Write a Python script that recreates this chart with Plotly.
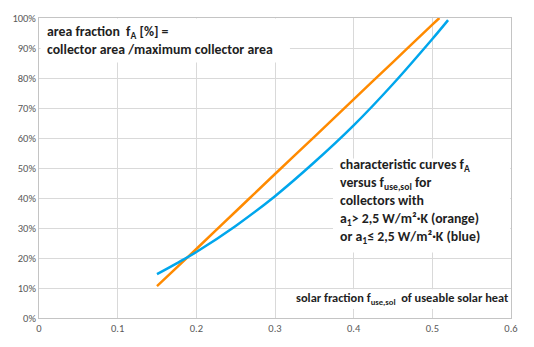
import plotly.graph_objects as go

# Data
x_orange = [0.15, 0.2, 0.25, 0.3, 0.35, 0.4, 0.45, 0.5, 0.509]
y_orange = [10.6, 23.0, 35.5, 48.0, 60.4, 72.9, 85.3, 97.8, 100.0]

x_blue = [0.15, 0.175, 0.2, 0.25, 0.3, 0.35, 0.4, 0.45, 0.5, 0.52]
y_blue = [14.6, 18.2, 22.0, 30.7, 40.6, 51.9, 64.2, 78.0, 93.0, 99.3]

x_ticks = [0, 0.1, 0.2, 0.3, 0.4, 0.5, 0.6]
x_tick_text = ["0", "0.1", "0.2", "0.3", "0.4", "0.5", "0.6"]
y_ticks = [0, 10, 20, 30, 40, 50, 60, 70, 80, 90, 100]
y_tick_text = [f"{v}%" for v in y_ticks]

ORANGE = "#FF8A00"
BLUE = "#00A6EC"
FONT = "Carlito, Lato, sans-serif"
TXT = "#1f1f1f"

fig = go.Figure()
fig.add_trace(go.Scatter(x=x_orange, y=y_orange, mode="lines",
                         line=dict(color=ORANGE, width=2.5, shape="spline"),
                         showlegend=False, hoverinfo="skip"))
fig.add_trace(go.Scatter(x=x_blue, y=y_blue, mode="lines",
                         line=dict(color=BLUE, width=2.5, shape="spline"),
                         showlegend=False, hoverinfo="skip"))

# white boxes behind the text blocks (hide grid lines)
boxes = [
    (0.002, 0.319, 85.2, 99.8),
    (0.3737, 0.599, 21.8, 53.2),
    (0.329, 0.599, 3.0, 9.6),
]
for x0, x1, y0, y1 in boxes:
    fig.add_shape(type="rect", xref="x", yref="y", x0=x0, x1=x1, y0=y0, y1=y1,
                  fillcolor="white", line=dict(width=0), layer="above")

fig.add_annotation(xref="paper", yref="paper", x=0.0155, y=0.926,
                   xanchor="left", yanchor="middle", align="left", showarrow=False,
                   borderpad=0,
                   text="<b>area fraction  f<sub>A</sub> [%] =<br>collector area /maximum collector area</b>",
                   font=dict(family=FONT, size=13.8, color=TXT))
fig.add_annotation(xref="paper", yref="paper", x=0.6354, y=0.3897,
                   xanchor="left", yanchor="middle", align="left", showarrow=False,
                   borderpad=0,
                   text=("<b>characteristic curves f<sub>A</sub><br>"
                         "versus f<sub>use,sol</sub> for<br>"
                         "collectors with<br>"
                         "a<sub>1</sub>> 2,5 W/m²·K (orange)<br>"
                         "or a<sub>1</sub>≤ 2,5 W/m²·K (blue)</b>"),
                   font=dict(family=FONT, size=13.8, color=TXT))
fig.add_annotation(xref="paper", yref="paper", x=0.9975, y=0.0645,
                   xanchor="right", yanchor="middle", align="right", showarrow=False,
                   borderpad=0,
                   text="<b>solar fraction f<sub>use,sol</sub>  of useable solar heat</b>",
                   font=dict(family=FONT, size=12.4, color=TXT))

axis_common = dict(showgrid=True, gridcolor="#d9d9d9", gridwidth=1,
                   showline=True, linecolor="#c4c4c4", linewidth=1, mirror=True,
                   zeroline=False, ticks="",
                   tickfont=dict(family=FONT, size=10.5, color="#595959"))

fig.update_xaxes(range=[0, 0.6], tickvals=x_ticks, ticktext=x_tick_text, **axis_common)
fig.update_yaxes(range=[0, 100], tickvals=y_ticks, ticktext=y_tick_text, **axis_common)

fig.update_layout(width=534, height=347, margin=dict(l=39, r=23, t=12, b=25),
                  paper_bgcolor="white", plot_bgcolor="white",
                  font=dict(family=FONT))

fig.write_html("out.html")
